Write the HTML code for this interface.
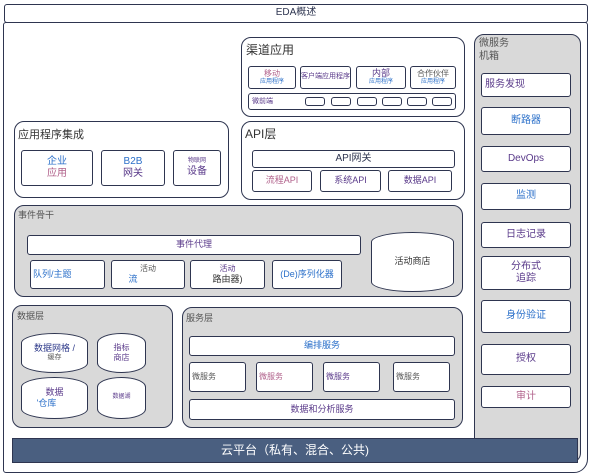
<!DOCTYPE html>
<html><head><meta charset="utf-8"><style>
body{margin:0;width:590px;height:475px;background:#fff;position:relative;overflow:hidden;font-family:"Liberation Sans","Noto Sans CJK SC",sans-serif;}
div{position:absolute;box-sizing:border-box;}
.b{border:1.5px solid #2e3550;background:#fff;border-radius:3px;}
.g{border:1.5px solid #2e3550;background:#d9d9d9;border-radius:10px;}
.w{border:1.5px solid #2e3550;background:#fff;border-radius:10px;}
.t{font-size:11px;color:#333;}
.c{display:flex;flex-direction:column;align-items:center;justify-content:center;text-align:center;line-height:1.25;}
.bl{color:#2a6fc9}.pu{color:#5a3a8a}.pk{color:#b0608a}.gy{color:#555}
.cyl{border:1.5px solid #2e3550;background:#fff;border-radius:50%/10px;}
</style></head><body>
<div class="b c" style="left:4px;top:4px;width:584px;height:19px;font-size:10px;color:#2e3550;">EDA概述</div>
<div class="b" style="left:3px;top:22px;width:585px;height:451px;border-radius:3px 3px 14px 3px;"></div>

<div class="w" style="left:241px;top:37px;width:224px;height:80px;"></div>
<div class="t" style="left:246px;top:41px;font-size:12px;">渠道应用</div>
<div class="b c" style="left:248px;top:66px;width:48px;height:23px;font-size:8px;"><span class="pk">移动</span><span class="bl" style="font-size:6px">应用程序</span></div>
<div class="b c pu" style="left:300px;top:66px;width:51px;height:23px;font-size:7px;white-space:nowrap;">客户端应用程序</div>
<div class="b c" style="left:356px;top:66px;width:50px;height:23px;font-size:9px;"><span class="pu">内部</span><span class="bl" style="font-size:6px">应用程序</span></div>
<div class="b c" style="left:410px;top:66px;width:46px;height:23px;font-size:8px;"><span class="gy">合作伙伴</span><span class="bl" style="font-size:6px">应用程序</span></div>
<div class="b" style="left:248px;top:93px;width:208px;height:17px;"></div>
<div class="pu" style="left:252px;top:96px;font-size:7px;">微前端</div>
<div class="b" style="left:305px;top:97px;width:20px;height:9px;"></div>
<div class="b" style="left:331px;top:97px;width:20px;height:9px;"></div>
<div class="b" style="left:357px;top:97px;width:20px;height:9px;"></div>
<div class="b" style="left:382px;top:97px;width:20px;height:9px;"></div>
<div class="b" style="left:407px;top:97px;width:20px;height:9px;"></div>
<div class="b" style="left:432px;top:97px;width:20px;height:9px;"></div>

<div class="w" style="left:241px;top:121px;width:224px;height:79px;"></div>
<div class="t" style="left:245px;top:125px;font-size:12px;">API层</div>
<div class="b c" style="left:252px;top:150px;width:203px;height:18px;font-size:10px;color:#2e3550;">API网关</div>
<div class="b c pk" style="left:252px;top:170px;width:60px;height:22px;font-size:9px;">流程API</div>
<div class="b c pu" style="left:320px;top:170px;width:61px;height:22px;font-size:9px;">系统API</div>
<div class="b c pu" style="left:388px;top:170px;width:64px;height:22px;font-size:9px;">数据API</div>

<div class="w" style="left:14px;top:121px;width:215px;height:77px;"></div>
<div class="t" style="left:18px;top:126px;font-size:11px;">应用程序集成</div>
<div class="b c" style="left:21px;top:150px;width:72px;height:36px;font-size:10px;"><span class="bl">企业</span><span class="pk">应用</span></div>
<div class="b c" style="left:101px;top:150px;width:64px;height:36px;font-size:10px;"><span class="bl">B2B</span><span class="pu">网关</span></div>
<div class="b c" style="left:173px;top:150px;width:48px;height:36px;font-size:10px;"><span class="pu" style="font-size:6px">物联网</span><span class="pu">设备</span></div>

<div class="g" style="left:474px;top:34px;width:107px;height:429px;"></div>
<div class="gy" style="left:479px;top:37px;font-size:10px;line-height:13px;">微服务<br>机箱</div>
<div class="b c pu" style="left:481px;top:73px;width:90px;height:24px;font-size:10px;align-items:flex-start;padding-left:3px;">服务发现</div>
<div class="b c bl" style="left:481px;top:107px;width:90px;height:28px;font-size:10px;">断路器</div>
<div class="b c pu" style="left:481px;top:146px;width:90px;height:26px;font-size:10px;">DevOps</div>
<div class="b c bl" style="left:481px;top:183px;width:90px;height:27px;font-size:10px;">监测</div>
<div class="b c pu" style="left:481px;top:222px;width:90px;height:26px;font-size:10px;">日志记录</div>
<div class="b c pu" style="left:481px;top:256px;width:90px;height:34px;font-size:10px;">分布式<br>追踪</div>
<div class="b c bl" style="left:481px;top:300px;width:90px;height:33px;font-size:10px;">身份验证</div>
<div class="b c pu" style="left:481px;top:344px;width:90px;height:31px;font-size:10px;">授权</div>
<div class="b c pk" style="left:481px;top:386px;width:90px;height:22px;font-size:10px;">审计</div>

<div class="g" style="left:14px;top:205px;width:449px;height:92px;"></div>
<div class="gy" style="left:18px;top:208px;font-size:9px;">事件骨干</div>
<div class="b c pu" style="left:27px;top:235px;width:334px;height:20px;font-size:9px;">事件代理</div>
<div class="b c bl" style="left:30px;top:260px;width:75px;height:29px;font-size:9px;align-items:flex-start;padding-left:2px;">队列/主题</div>
<div class="b c" style="left:111px;top:260px;width:74px;height:29px;font-size:9px;"><span class="gy" style="font-size:8px">活动</span><span class="bl" style="margin-right:30px">流</span></div>
<div class="b c" style="left:190px;top:260px;width:75px;height:29px;font-size:9px;"><span class="pu" style="font-size:8px">活动</span><span style="color:#333">路由器)</span></div>
<div class="b c bl" style="left:272px;top:260px;width:70px;height:29px;font-size:9px;">(De)序列化器</div>
<div class="cyl c" style="left:371px;top:232px;width:83px;height:60px;font-size:9px;color:#333;">活动商店</div>

<div class="g" style="left:12px;top:305px;width:161px;height:123px;"></div>
<div class="gy" style="left:17px;top:309px;font-size:9px;">数据层</div>
<div class="cyl c" style="left:21px;top:333px;width:67px;height:40px;font-size:9px;"><span style="color:#2e3a8a">数据网格 /</span><span class="gy" style="font-size:7px">缓存</span></div>
<div class="cyl c" style="left:97px;top:333px;width:49px;height:40px;font-size:8px;"><span class="pu">指标</span><span class="pu">商店</span></div>
<div class="cyl c" style="left:21px;top:377px;width:67px;height:42px;font-size:9px;"><span class="pu">数据</span><span class="bl" style="margin-right:16px">'仓库</span></div>
<div class="cyl c pu" style="left:97px;top:377px;width:49px;height:42px;font-size:6px;">数据湖</div>

<div class="g" style="left:182px;top:307px;width:281px;height:121px;"></div>
<div class="gy" style="left:186px;top:311px;font-size:9px;">服务层</div>
<div class="b c bl" style="left:189px;top:336px;width:266px;height:20px;font-size:9px;">编排服务</div>
<div class="b c gy" style="left:189px;top:362px;width:57px;height:30px;font-size:8px;align-items:flex-start;padding-left:2px;">微服务</div>
<div class="b c pk" style="left:256px;top:362px;width:57px;height:30px;font-size:8px;align-items:flex-start;padding-left:2px;">微服务</div>
<div class="b c pu" style="left:323px;top:362px;width:57px;height:30px;font-size:8px;align-items:flex-start;padding-left:2px;">微服务</div>
<div class="b c gy" style="left:393px;top:362px;width:57px;height:30px;font-size:8px;align-items:flex-start;padding-left:2px;">微服务</div>
<div class="b c pu" style="left:189px;top:399px;width:266px;height:21px;font-size:9px;">数据和分析服务</div>

<div class="c" style="left:12px;top:438px;width:566px;height:25px;background:#4a5f80;border:1.5px solid #2e3550;color:#fff;font-size:12px;">云平台（私有、混合、公共)</div>
</body></html>
